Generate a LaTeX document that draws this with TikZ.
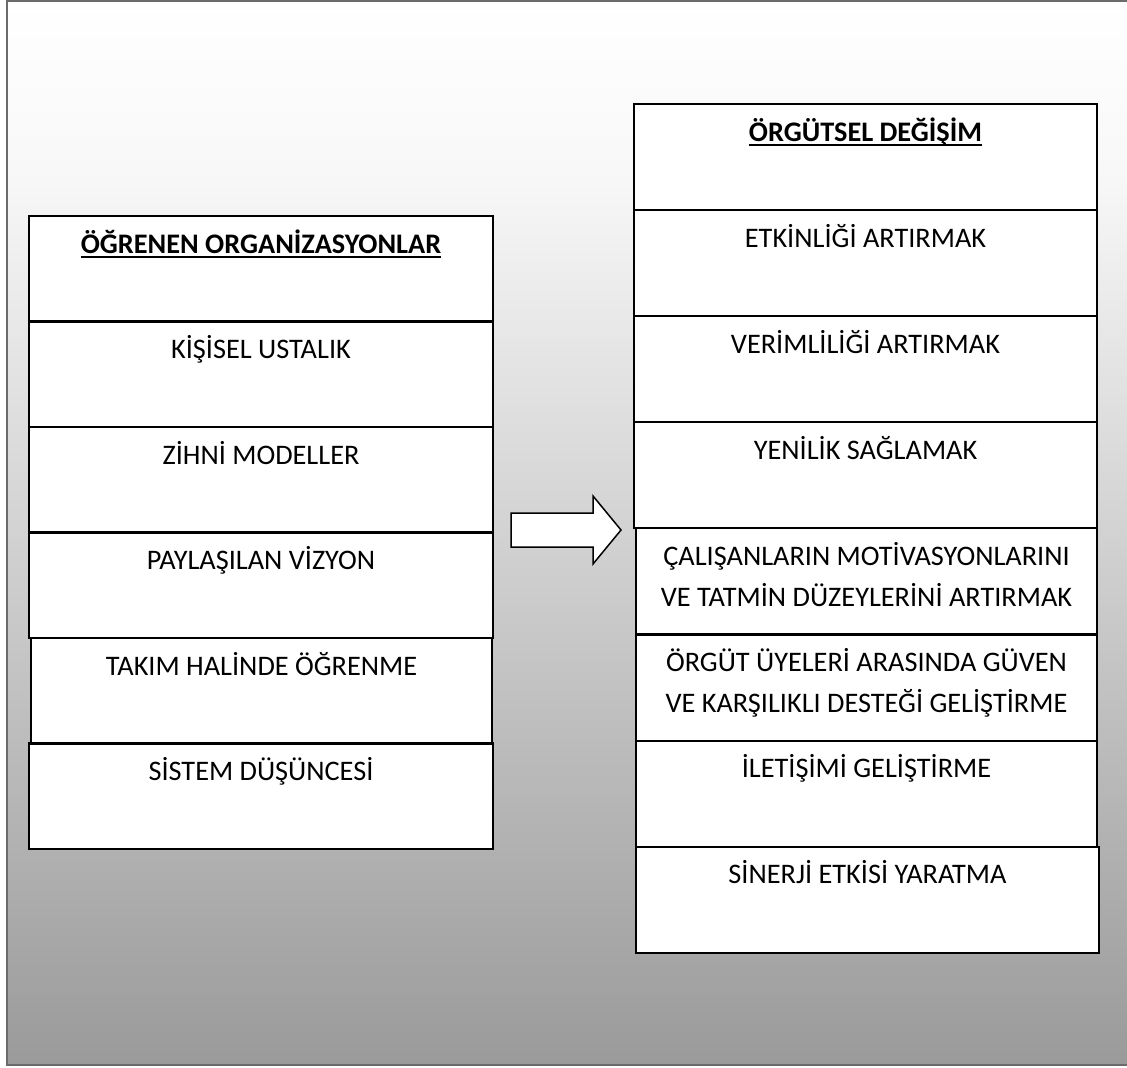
\documentclass[tikz,border=0pt]{standalone}
\usepackage{fontspec}
\setmainfont{Carlito}

\definecolor{framegray}{RGB}{107,107,107}
\definecolor{bgbottom}{RGB}{154,154,154}
\definecolor{bgmid}{RGB}{210,210,210}
\definecolor{bgtop}{RGB}{248,248,248}

% background fade: white at the top, mid grey towards the bottom
% (the filled path covers 25bp..75bp of the shading)
\pgfdeclareverticalshading{bgfade}{100bp}{%
  color(0bp)=(bgbottom); color(25bp)=(bgbottom); color(50bp)=(bgmid);
  color(67bp)=(bgtop); color(75bp)=(white); color(100bp)=(white)}

\tikzset{
  cell/.style={draw=black, line width=2.1pt, fill=white, rectangle,
               inner sep=0pt, outer sep=0pt, anchor=north west},
  leftcell/.style={cell, minimum width=464pt, minimum height=105.5pt},
  rightcell/.style={cell, minimum width=463pt, minimum height=106.1pt},
  lab/.style={anchor=base, inner sep=0pt, align=center,
              font=\fontsize{28.3}{41}\selectfont},
  title/.style={lab, font=\fontsize{28.3}{41}\selectfont\bfseries},
  underbar/.style={line width=2.6pt},
  blockarrow/.style={draw=black, line width=1.5pt, fill=white, line join=miter},
}

\begin{document}
\begin{tikzpicture}[x=1pt, y=-1pt]
  \useasboundingbox (0,0) rectangle (1127,1068);
  \clip (0,0) rectangle (1127,1068);

  % outer frame with fading background
  \shade[shading=bgfade] (7,1) rectangle (1140,1065);
  \draw[framegray, line width=2.6pt] (7,1) rectangle (1140,1065);

  % left column: learning organisations
  \node[leftcell] (l1) at (29,216)   {};
  \node[leftcell] (l2) at (29,321.5) {};
  \node[leftcell] (l3) at (29,427)   {};
  \node[leftcell] (l4) at (29,532.5) {};
  \node[leftcell, minimum width=461pt] (l5) at (31,638) {};
  \node[leftcell] (l6) at (29,743.5) {};

  \node[title] (l1t) at ([yshift=-37pt]l1.north) {ÖĞRENEN ORGANİZASYONLAR};
  \draw[underbar] ([yshift=-4pt]l1t.base west) -- ([yshift=-4pt]l1t.base east);
  \node[lab]   (l2t) at ([yshift=-37pt]l2.north) {KİŞİSEL USTALIK};
  \node[lab]   (l3t) at ([yshift=-37pt]l3.north) {ZİHNİ MODELLER};
  \node[lab]   (l4t) at ([yshift=-37pt]l4.north) {PAYLAŞILAN VİZYON};
  \node[lab]   (l5t) at ([yshift=-37pt]l5.north) {TAKIM HALİNDE ÖĞRENME};
  \node[lab]   (l6t) at ([yshift=-37pt]l6.north) {SİSTEM DÜŞÜNCESİ};

  % right column: organisational change
  \node[rightcell] (r1) at (634,104)   {};
  \node[rightcell] (r2) at (634,210)   {};
  \node[rightcell] (r3) at (634,316.2) {};
  \node[rightcell] (r4) at (634,422.3) {};
  \node[rightcell, minimum width=461pt] (r5) at (636,528.4) {};
  \node[rightcell, minimum width=461pt] (r6) at (636,634.5) {};
  \node[rightcell, minimum width=461pt] (r7) at (636,740.6) {};
  \node[rightcell] (r8) at (636,846.7) {};

  \node[title] (r1t) at ([yshift=-37pt]r1.north) {ÖRGÜTSEL DEĞİŞİM};
  \draw[underbar] ([yshift=-4pt]r1t.base west) -- ([yshift=-4pt]r1t.base east);
  \node[lab]   (r2t) at ([yshift=-37pt]r2.north) {ETKİNLİĞİ ARTIRMAK};
  \node[lab]   (r3t) at ([yshift=-37pt]r3.north) {VERİMLİLİĞİ ARTIRMAK};
  \node[lab]   (r4t) at ([yshift=-37pt]r4.north) {YENİLİK SAĞLAMAK};
  % two-line labels: the base anchor sits on the second line
  \node[lab]   (r5t) at ([yshift=-78pt]r5.north) {ÇALIŞANLARIN MOTİVASYONLARINI\\VE TATMİN DÜZEYLERİNİ ARTIRMAK};
  \node[lab]   (r6t) at ([yshift=-78pt]r6.north) {ÖRGÜT ÜYELERİ ARASINDA GÜVEN\\VE KARŞILIKLI DESTEĞİ GELİŞTİRME};
  \node[lab]   (r7t) at ([yshift=-37pt]r7.north) {İLETİŞİMİ GELİŞTİRME};
  \node[lab]   (r8t) at ([yshift=-37pt]r8.north) {SİNERJİ ETKİSİ YARATMA};

  % block arrow between the two columns
  \draw[blockarrow] (511,513) -- (593,513) -- (593,496) -- (621,530)
        -- (593,564) -- (593,547) -- (511,547) -- cycle;
\end{tikzpicture}
\end{document}
